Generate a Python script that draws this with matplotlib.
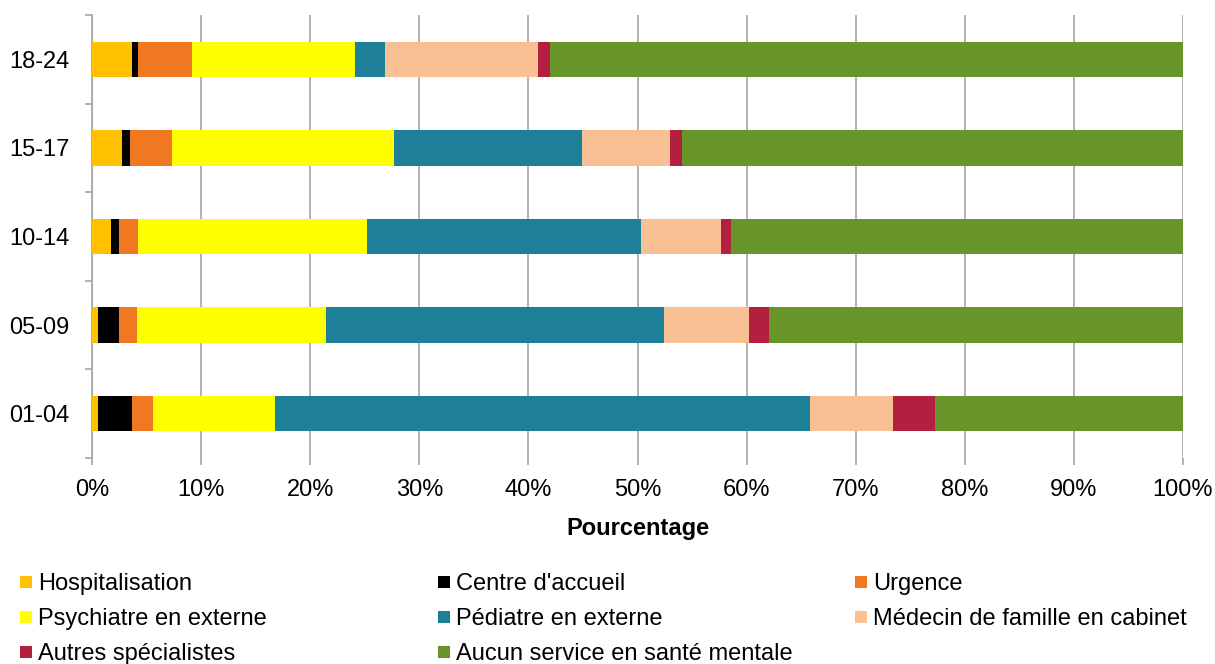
import matplotlib
matplotlib.use("Agg")
import matplotlib.pyplot as plt
from matplotlib.patches import Rectangle
import numpy as np

plt.rcParams['font.family'] = ['Liberation Sans', 'DejaVu Sans']

categories = ["01-04", "05-09", "10-14", "15-17", "18-24"]
series_names = ["Hospitalisation", "Centre d'accueil", "Urgence",
                "Psychiatre en externe", "Pédiatre en externe",
                "Médecin de famille en cabinet", "Autres spécialistes",
                "Aucun service en santé mentale"]
colors = ["#FFC000", "#000000", "#F07820", "#FFFF00", "#1D8098",
          "#F9C193", "#B31F3F", "#689529"]

# values in % per category (01-04, 05-09, 10-14, 15-17, 18-24)
hospitalisation = [0.55, 0.58, 1.74, 2.75, 3.63]
centre_accueil = [3.11, 1.89, 0.76, 0.76, 0.61]
urgence = [1.93, 1.65, 1.74, 3.82, 4.95]
psychiatre = [11.17, 17.34, 20.94, 20.33, 14.89]
pediatre = [49.08, 30.95, 25.16, 17.24, 2.75]
medecin = [7.54, 7.85, 7.32, 8.10, 14.04]
autres = [3.91, 1.77, 0.89, 1.06, 1.13]
aucun = [22.71, 37.97, 41.45, 45.94, 58.00]

series = [hospitalisation, centre_accueil, urgence, psychiatre, pediatre,
          medecin, autres, aucun]

W, H = 1215, 664
fig = plt.figure(figsize=(W / 100, H / 100), dpi=100)
ax = fig.add_axes([92 / W, 1 - 458 / H, (1183 - 92) / W, (458 - 15) / H])

y = np.arange(len(categories))
left = np.zeros(len(categories))
for vals, c, name in zip(series, colors, series_names):
    ax.barh(y, vals, left=left, height=0.4, color=c, label=name, zorder=3)
    left += np.array(vals)

ax.set_xlim(0, 100)
ax.set_ylim(-0.5, len(categories) - 0.5)

grid_c = "#A6A6A6"
ax.set_xticks(np.arange(0, 101, 10))
ax.set_xticklabels([f"{v}%" for v in range(0, 101, 10)], fontsize=17)
ax.tick_params(axis='x', length=5, width=1.2, color=grid_c, pad=10)
ax.xaxis.grid(True, color=grid_c, linewidth=1.2, zorder=0)

ax.set_yticks(y)
ax.set_yticklabels(categories, fontsize=17)
ax.set_yticks(np.arange(-0.5, len(categories), 1), minor=True)
ax.tick_params(axis='y', which='major', length=0, pad=16)
ax.tick_params(axis='y', which='minor', length=5, width=1.2, color=grid_c)

for s in ['top', 'right', 'bottom']:
    ax.spines[s].set_visible(False)
ax.spines['left'].set_color(grid_c)
ax.spines['left'].set_linewidth(1.2)

ax.set_xlabel("Pourcentage", fontsize=17, fontweight='bold', labelpad=12)

# legend (row-major, three fixed columns)
col_x = [20, 438, 855]
row_y = [582, 617, 652]
sq = 12
for i, (name, c) in enumerate(zip(series_names, colors)):
    r, k = divmod(i, 3)
    x0, yc = col_x[k], row_y[r]
    fig.add_artist(Rectangle((x0 / W, 1 - (yc + sq / 2) / H), sq / W, sq / H,
                             transform=fig.transFigure, facecolor=c,
                             edgecolor='none'))
    fig.text((x0 + sq + 6) / W, 1 - (yc + 2) / H, name, fontsize=17,
             va='center', ha='left')

fig.savefig("out.png", dpi=100)
